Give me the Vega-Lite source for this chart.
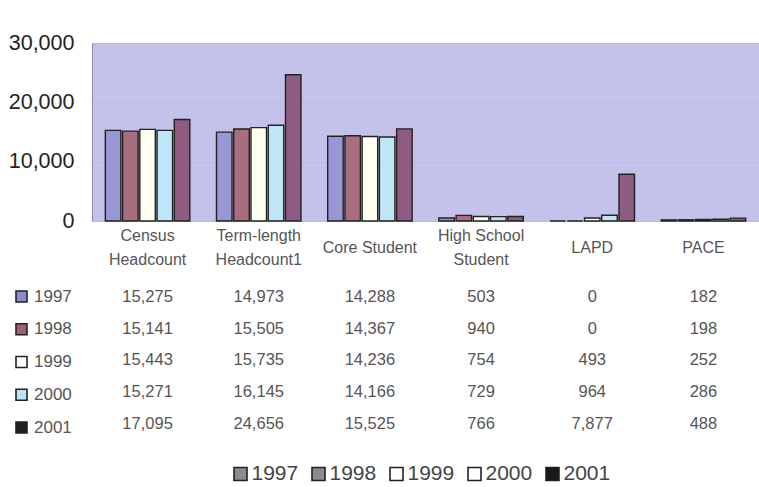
{
  "$schema": "https://vega.github.io/schema/vega-lite/v6.json",
  "background": "white",
  "padding": {"left": 6, "top": 31, "right": 2, "bottom": 0},
  "config": {
    "font": "Liberation Sans",
    "view": {"stroke": null},
    "concat": {"spacing": 13}
  },
  "datasets": {
    "enrollment": [
      {"category": "Census Headcount", "year": "1997", "value": 15275},
      {"category": "Census Headcount", "year": "1998", "value": 15141},
      {"category": "Census Headcount", "year": "1999", "value": 15443},
      {"category": "Census Headcount", "year": "2000", "value": 15271},
      {"category": "Census Headcount", "year": "2001", "value": 17095},
      {"category": "Term-length Headcount1", "year": "1997", "value": 14973},
      {"category": "Term-length Headcount1", "year": "1998", "value": 15505},
      {"category": "Term-length Headcount1", "year": "1999", "value": 15735},
      {"category": "Term-length Headcount1", "year": "2000", "value": 16145},
      {"category": "Term-length Headcount1", "year": "2001", "value": 24656},
      {"category": "Core Student", "year": "1997", "value": 14288},
      {"category": "Core Student", "year": "1998", "value": 14367},
      {"category": "Core Student", "year": "1999", "value": 14236},
      {"category": "Core Student", "year": "2000", "value": 14166},
      {"category": "Core Student", "year": "2001", "value": 15525},
      {"category": "High School Student", "year": "1997", "value": 503},
      {"category": "High School Student", "year": "1998", "value": 940},
      {"category": "High School Student", "year": "1999", "value": 754},
      {"category": "High School Student", "year": "2000", "value": 729},
      {"category": "High School Student", "year": "2001", "value": 766},
      {"category": "LAPD", "year": "1997", "value": 0},
      {"category": "LAPD", "year": "1998", "value": 0},
      {"category": "LAPD", "year": "1999", "value": 493},
      {"category": "LAPD", "year": "2000", "value": 964},
      {"category": "LAPD", "year": "2001", "value": 7877},
      {"category": "PACE", "year": "1997", "value": 182},
      {"category": "PACE", "year": "1998", "value": 198},
      {"category": "PACE", "year": "1999", "value": 252},
      {"category": "PACE", "year": "2000", "value": 286},
      {"category": "PACE", "year": "2001", "value": 488}
    ],
    "years": [
      {"year": "1997"}, {"year": "1998"}, {"year": "1999"}, {"year": "2000"}, {"year": "2001"}
    ]
  },
  "resolve": {
    "scale": {"color": "independent", "x": "independent", "y": "independent"},
    "legend": {"color": "independent"}
  },
  "vconcat": [
    {
      "width": 667,
      "height": 178,
      "view": {"fill": "#c4c2ea", "stroke": "#8a88a8", "strokeWidth": 1},
      "data": {"name": "enrollment"},
      "mark": {"type": "bar", "stroke": "#222222", "strokeWidth": 1.4},
      "encoding": {
        "x": {
          "field": "category",
          "type": "nominal",
          "sort": ["Census Headcount", "Term-length Headcount1", "Core Student", "High School Student", "LAPD", "PACE"],
          "scale": {"paddingInner": 0.24, "paddingOuter": 0.12},
          "axis": {
            "title": null,
            "labelAngle": 0,
            "domain": false,
            "ticks": false,
            "tickSize": 0,
            "labelPadding": 26.5,
            "labelFontSize": 16,
            "labelColor": "#555555",
            "labelBaseline": "middle",
            "labelLineHeight": 23.5,
            "labelExpr": "indexof(datum.label, ' ') < 0 || datum.label == 'Core Student' ? datum.label : [slice(datum.label, 0, lastindexof(datum.label, ' ')), slice(datum.label, lastindexof(datum.label, ' ') + 1)]",
            "encoding": {
              "labels": {
                "dy": {"value": {"expr": "indexof(['Core Student', 'LAPD', 'PACE'], datum.value) >= 0 ? 0 : -11.75"}}
              }
            }
          }
        },
        "xOffset": {
          "field": "year",
          "type": "nominal",
          "scale": {"paddingInner": 0.1}
        },
        "y": {
          "field": "value",
          "type": "quantitative",
          "scale": {"domain": [0, 30000]},
          "axis": {
            "title": null,
            "values": [0, 10000, 20000, 30000],
            "format": ",.0f",
            "labelFontSize": 21.5,
            "labelColor": "#222222",
            "labelPadding": 18,
            "labelFlush": false,
            "ticks": false,
            "domain": false,
            "gridColor": "#bcb9e6"
          }
        },
        "color": {
          "field": "year",
          "type": "nominal",
          "scale": {
            "domain": ["1997", "1998", "1999", "2000", "2001"],
            "range": ["#9797d6", "#a86d7e", "#fffff0", "#bfe6f7", "#8e5c82"]
          },
          "legend": null
        }
      }
    },
    {
      "width": 667,
      "height": 158.75,
      "data": {"name": "enrollment"},
      "layer": [
        {
          "mark": {"type": "rect", "opacity": 0},
          "encoding": {
            "x": {
              "field": "category",
              "type": "nominal",
              "sort": ["Census Headcount", "Term-length Headcount1", "Core Student", "High School Student", "LAPD", "PACE"],
              "scale": {"paddingInner": 0.24, "paddingOuter": 0.12},
              "axis": null
            },
            "y": {"field": "year", "type": "nominal", "axis": null},
            "color": {
              "field": "year",
              "type": "nominal",
              "scale": {
                "domain": ["1997", "1998", "1999", "2000", "2001"],
                "range": ["#8c8cd0", "#a0606f", "#ffffff", "#bfe4f5", "#1e1e1e"]
              },
              "legend": {
                "orient": "left",
                "title": null,
                "symbolType": "square",
                "symbolSize": 121,
                "symbolOpacity": 1,
                "symbolStrokeColor": "#222222",
                "symbolStrokeWidth": 1.6,
                "labelFontSize": 17,
                "labelColor": "#555555",
                "labelOffset": 4,
                "rowPadding": 13.75,
                "padding": 7,
                "offset": 13
              }
            }
          }
        },
        {
          "mark": {"type": "text", "fontSize": 16.5, "color": "#555555"},
          "encoding": {
            "x": {
              "field": "category",
              "type": "nominal",
              "sort": ["Census Headcount", "Term-length Headcount1", "Core Student", "High School Student", "LAPD", "PACE"],
              "axis": null
            },
            "y": {"field": "year", "type": "nominal", "axis": null},
            "text": {"field": "value", "type": "quantitative", "format": ","}
          }
        }
      ]
    },
    {
      "width": 468,
      "height": 34,
      "data": {"name": "years"},
      "layer": [
        {
          "mark": {"type": "point", "shape": "square", "filled": true, "size": 169, "stroke": "#222222", "strokeWidth": 1.6, "opacity": 1},
          "encoding": {
            "x": {"field": "year", "type": "nominal", "scale": {"type": "point", "padding": 1, "align": 0.952}, "axis": null},
            "color": {
              "field": "year",
              "type": "nominal",
              "scale": {
                "domain": ["1997", "1998", "1999", "2000", "2001"],
                "range": ["#8c8c8c", "#8c8c8c", "#ffffff", "#ffffff", "#1a1a1a"]
              },
              "legend": null
            }
          }
        },
        {
          "mark": {"type": "text", "align": "left", "dx": 11, "fontSize": 21, "color": "#444444"},
          "encoding": {
            "x": {"field": "year", "type": "nominal", "scale": {"type": "point", "padding": 1, "align": 0.952}, "axis": null},
            "text": {"field": "year", "type": "nominal"}
          }
        }
      ]
    }
  ]
}
